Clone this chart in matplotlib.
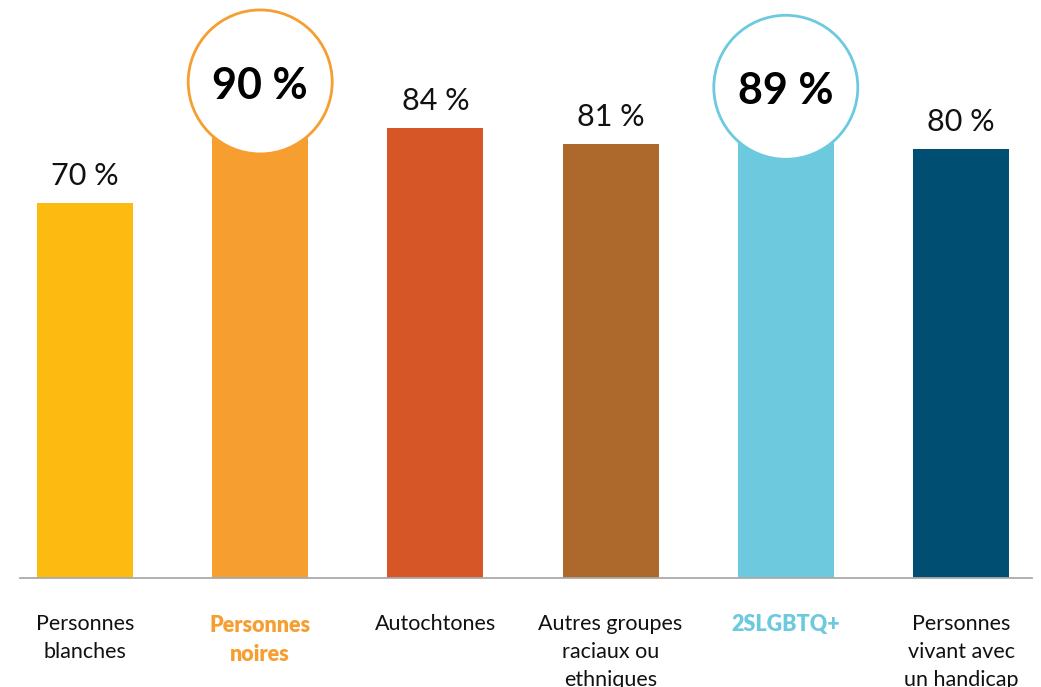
import numpy as np
import matplotlib.pyplot as plt
from matplotlib.patches import Ellipse

plt.rcParams['font.family'] = ['Lato', 'DejaVu Sans']

# data
categories = ['Personnes\nblanches', 'Personnes\nnoires', 'Autochtones',
              'Autres groupes\nraciaux ou\nethniques', '2SLGBTQ+',
              'Personnes\nvivant avec\nun handicap']
values = [70, 90, 84, 81, 89, 80]
value_labels = ['70 %', '90 %', '84 %', '81 %', '89 %', '80 %']
colors = ['#FDBB12', '#F79E30', '#D65627', '#AD682B', '#6DCADE', '#004F73']
highlight = [False, True, False, False, True, False]

fig = plt.figure(figsize=(10.41, 6.87), dpi=100)
ax = fig.add_axes([0, 0, 1, 1])

# pixel scale: 175.2 px per category, 5.357 px per percent
px_x = 175.2
px_y = 5.357
x = np.arange(len(values))
ax.set_xlim(-85 / px_x, (1041 - 85) / px_x)
ax.set_ylim(-109 / px_y, 578 / px_y)
ax.axis('off')

ax.bar(x, values, width=96 / px_x, color=colors, zorder=2)
# baseline
ax.plot([-65 / px_x, (1032 - 85) / px_x], [0, 0], color='#AAAAAA', lw=1.3, zorder=3)

lab_y = -36.5 / px_y
for i, v in enumerate(values):
    if highlight[i]:
        circ = Ellipse((i, v + 2.6), width=144 / px_x, height=144 / px_y,
                       facecolor='white', edgecolor=colors[i], lw=2, zorder=4)
        ax.add_patch(circ)
        ax.text(i, v - 0.6, value_labels[i], ha='center', va='baseline',
                fontsize=31, fontweight='bold', color='black', zorder=5)
        ax.text(i, lab_y, categories[i], ha='center', va='top',
                fontsize=15.5, fontweight='heavy', color=colors[i], linespacing=1.5)
    else:
        ax.text(i, v + 3.4, value_labels[i], ha='center', va='baseline',
                fontsize=22, color='#111111', zorder=5)
        ax.text(i, lab_y, categories[i], ha='center', va='top',
                fontsize=15.5, color='#111111', linespacing=1.5)

plt.savefig('out.png', dpi=100)
